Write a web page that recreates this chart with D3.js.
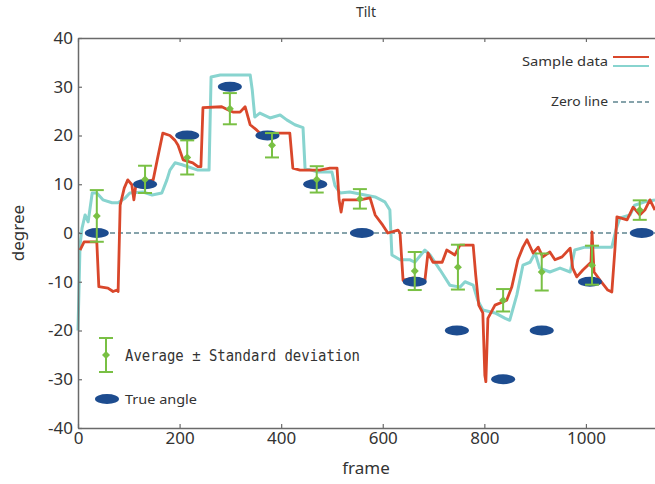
<!DOCTYPE html>
<html>
<head>
<meta charset="utf-8">
<script src="https://cdn.jsdelivr.net/npm/d3@7"></script>
<style>
  html, body { margin: 0; padding: 0; background: #fff; }
  svg { display: block; }
  text { font-family: "Noto Sans", "Open Sans", sans-serif; fill: #333; }
</style>
</head>
<body>
<svg id="chart" width="655" height="484"></svg>
<script>
// ---------- data ----------
const xTicks = [0, 200, 400, 600, 800, 1000];
const yTicks = [-40, -30, -20, -10, 0, 10, 20, 30, 40];

// red "Sample data" series
const redFrames = [4, 12, 37, 41, 59, 69, 77, 79, 83, 91, 98, 106, 110, 114, 126, 148, 156, 167, 181, 191, 197, 207, 226, 236, 242, 246, 283, 295, 305, 319, 329, 339, 352, 362, 388, 417, 423, 437, 476, 496, 510, 514, 518, 522, 555, 575, 585, 600, 610, 630, 634, 640, 660, 683, 689, 699, 717, 726, 742, 752, 778, 783, 789, 797, 801, 803, 807, 821, 844, 854, 866, 876, 884, 896, 906, 915, 929, 939, 953, 969, 974, 982, 994, 1010, 1012, 1016, 1028, 1043, 1051, 1057, 1061, 1081, 1093, 1106, 1116, 1126, 1136];
const redValues = [-3.5, -1.8, -1.8, -11, -11.3, -12, -11.7, -12, 5.7, 9.2, 10.9, 9.9, 6.8, 9.9, 10.3, 10.9, 15, 20.5, 20, 19, 18, 15, 14.4, 13.6, 13.6, 25.7, 25.9, 25.3, 24.8, 24.8, 25.9, 22.2, 21.1, 20.1, 20.5, 20.5, 13.3, 12.9, 12.9, 13.3, 13.3, 6.8, 4.3, 6.8, 6.8, 7.2, 3.7, 1.6, 0, 0.6, 0, -9.7, -9.2, -9.7, -4.1, -6, -6, -3.5, -4.5, -2.5, -2.5, -8.6, -14.8, -16.4, -29.2, -30.5, -17.5, -14.8, -13.8, -11.1, -5.5, -2.9, -1.4, -4.1, -2.9, -4.9, -3.9, -5.5, -4.9, -3.1, -7.2, -9, -7.6, -6, 0.2, -8, -9.7, -11.7, -12.1, -3.5, 3.3, 2.7, 5.3, 3.7, 4.7, 6.8, 4.7];

// cyan "Sample data" series
const cyanFrames = [0, 4, 8, 14, 20, 28, 37, 49, 67, 79, 93, 102, 128, 146, 165, 175, 181, 191, 205, 236, 258, 262, 280, 339, 343, 348, 358, 378, 398, 411, 427, 443, 447, 472, 500, 506, 516, 535, 565, 585, 604, 614, 618, 634, 654, 663, 683, 693, 713, 732, 752, 762, 778, 787, 797, 821, 841, 850, 864, 876, 890, 900, 909, 929, 949, 969, 978, 998, 1028, 1051, 1059, 1067, 1087, 1096, 1116, 1136];
const cyanValues = [-20, -2.5, 1, 3.7, 2.3, 8.2, 8.2, 6.8, 6.2, 6.2, 7.2, 8.2, 8.4, 7.8, 8.2, 10.9, 12.9, 14.4, 14, 12.9, 12.9, 32, 32.4, 32.4, 29.4, 23.8, 24.6, 23.6, 24.2, 23.2, 22.2, 21.6, 13.3, 12.5, 12.5, 9.7, 8.2, 8.4, 7.8, 7.4, 6.4, 4.7, -4.5, -5.5, -5.5, -6, -3.5, -4.5, -7.6, -10.7, -11.1, -10, -10.7, -13.8, -15.8, -16.4, -17.5, -17.9, -12.7, -6.6, -6, -4.1, -7.2, -8, -7.2, -8, -3.5, -2.9, -2.9, -2.9, 0.6, 3.1, 3.7, 5.7, 6.4, 6.8];

// average ± standard deviation
const barFrames = [37, 132, 215, 299, 382, 470, 555, 663, 748, 837, 913, 1012, 1106];
const barMeans  = [3.5, 11, 15.5, 25.5, 18, 11, 7, -7.8, -7, -13.8, -8, -6.6, 4.7];
const barSDs    = [5.3, 2.8, 3.5, 3.2, 2.5, 2.7, 2, 3.9, 4.6, 2.3, 3.8, 4, 2];

// true angle
const trueFrames = [37, 132, 215, 299, 373, 467, 559, 663, 746, 837, 913, 1008, 1110];
const trueAngles = [0, 10, 20, 30, 20, 10, 0, -10, -20, -30, -20, -10, 0];

// ---------- chart ----------
const svg = d3.select("#chart");
const x = d3.scaleLinear().domain([0, 1136]).range([78, 655]);
const y = d3.scaleLinear().domain([-40, 40]).range([428, 38]);

const C = {
  red: "#d9472b", cyan: "#88d4cf", green: "#79c044",
  blue: "#1d4c8f", zero: "#5f8590", axis: "#6a6a6a"
};

// zero line
svg.append("line")
  .attr("x1", x(0)).attr("x2", 655)
  .attr("y1", y(0)).attr("y2", y(0))
  .attr("stroke", C.zero).attr("stroke-width", 1.6)
  .attr("stroke-dasharray", "5,3");

const line = d3.line().x(d => x(d[0])).y(d => y(d[1]));
const cyanData = cyanFrames.map((f, i) => [f, cyanValues[i]]);
const redData = redFrames.map((f, i) => [f, redValues[i]]);

svg.append("path").datum(cyanData).attr("d", line)
  .attr("fill", "none").attr("stroke", C.cyan).attr("stroke-width", 3)
  .attr("stroke-linejoin", "round");
svg.append("path").datum(redData).attr("d", line)
  .attr("fill", "none").attr("stroke", C.red).attr("stroke-width", 2.8)
  .attr("stroke-linejoin", "round");

// true angle ellipses
svg.append("g").selectAll("ellipse")
  .data(trueFrames.map((f, i) => [f, trueAngles[i]]))
  .join("ellipse")
  .attr("cx", d => x(d[0])).attr("cy", d => y(d[1]))
  .attr("rx", 12).attr("ry", 5)
  .attr("fill", C.blue);

// error bars
const bars = svg.append("g").selectAll("g")
  .data(barFrames.map((f, i) => ({ f, m: barMeans[i], s: barSDs[i] })))
  .join("g")
  .attr("stroke", C.green).attr("stroke-width", 2);
bars.append("line")
  .attr("x1", d => x(d.f)).attr("x2", d => x(d.f))
  .attr("y1", d => y(d.m + d.s)).attr("y2", d => y(d.m - d.s));
bars.append("line")
  .attr("x1", d => x(d.f) - 7).attr("x2", d => x(d.f) + 7)
  .attr("y1", d => y(d.m + d.s)).attr("y2", d => y(d.m + d.s));
bars.append("line")
  .attr("x1", d => x(d.f) - 7).attr("x2", d => x(d.f) + 7)
  .attr("y1", d => y(d.m - d.s)).attr("y2", d => y(d.m - d.s));
bars.append("path")
  .attr("d", d3.symbol(d3.symbolDiamond, 28))
  .attr("transform", d => `translate(${x(d.f)},${y(d.m)}) scale(1.4,0.8)`)
  .attr("fill", C.green).attr("stroke", "none");

// axes
const axisStyle = g => {
  g.selectAll("path.domain").attr("stroke", C.axis).attr("stroke-width", 1.5);
  g.selectAll(".tick line").attr("stroke", C.axis).attr("stroke-width", 1.2);
  g.selectAll(".tick text").attr("fill", "#333")
    .style("font-family", '"Noto Sans", sans-serif').style("font-size", "17px");
};
const plainFmt = d => String(d);

svg.append("g").attr("transform", `translate(0,${y(-40)})`)
  .call(d3.axisBottom(x).tickValues(xTicks).tickFormat(plainFmt)
    .tickSizeInner(-4).tickSizeOuter(0).tickPadding(4))
  .call(axisStyle);
svg.append("g").attr("transform", `translate(0,${y(40)})`)
  .call(d3.axisTop(x).tickValues(xTicks).tickSizeInner(-4).tickSizeOuter(0).tickFormat(""))
  .call(axisStyle);
svg.append("g").attr("transform", `translate(${x(0)},0)`)
  .call(d3.axisLeft(y).tickValues(yTicks).tickFormat(plainFmt)
    .tickSizeInner(-4).tickSizeOuter(0).tickPadding(5))
  .call(axisStyle);

// titles
svg.append("text").attr("x", 366).attr("y", 17).attr("text-anchor", "middle")
  .style("font-size", "14px").text("Tilt");
svg.append("text").attr("x", 366).attr("y", 474).attr("text-anchor", "middle")
  .style("font-size", "17px").text("frame");
svg.append("text").attr("transform", `translate(24,${y(0)}) rotate(-90)`)
  .attr("text-anchor", "middle").style("font-size", "17px").text("degree");

// top-right legend
svg.append("text").attr("x", 608).attr("y", 66).attr("text-anchor", "end")
  .style("font-size", "13px").attr("textLength", 86).attr("lengthAdjust", "spacingAndGlyphs")
  .text("Sample data");
svg.append("line").attr("x1", 613).attr("x2", 649).attr("y1", 57).attr("y2", 57)
  .attr("stroke", C.red).attr("stroke-width", 2.2);
svg.append("line").attr("x1", 613).attr("x2", 649).attr("y1", 66).attr("y2", 66)
  .attr("stroke", C.cyan).attr("stroke-width", 2.2);
svg.append("text").attr("x", 608).attr("y", 106).attr("text-anchor", "end")
  .style("font-size", "13px").attr("textLength", 57).attr("lengthAdjust", "spacingAndGlyphs")
  .text("Zero line");
svg.append("line").attr("x1", 613).attr("x2", 649).attr("y1", 102).attr("y2", 102)
  .attr("stroke", C.zero).attr("stroke-width", 1.6).attr("stroke-dasharray", "5,3");

// bottom-left legend
const lg = svg.append("g").attr("stroke", C.green).attr("stroke-width", 2);
lg.append("line").attr("x1", 106).attr("x2", 106).attr("y1", 338).attr("y2", 372);
lg.append("line").attr("x1", 99).attr("x2", 113).attr("y1", 338).attr("y2", 338);
lg.append("line").attr("x1", 99).attr("x2", 113).attr("y1", 372).attr("y2", 372);
lg.append("path").attr("d", d3.symbol(d3.symbolDiamond, 28))
  .attr("transform", "translate(106,355) scale(1.4,0.8)")
  .attr("fill", C.green).attr("stroke", "none");
svg.append("text").attr("x", 125).attr("y", 361)
  .style("font-family", '"DejaVu Sans Mono", monospace').style("font-size", "15px")
  .attr("textLength", 235).attr("lengthAdjust", "spacingAndGlyphs")
  .text("Average \u00B1 Standard deviation");
svg.append("ellipse").attr("cx", 107).attr("cy", 399).attr("rx", 12).attr("ry", 5)
  .attr("fill", C.blue);
svg.append("text").attr("x", 125).attr("y", 404)
  .style("font-size", "13px").attr("textLength", 72).attr("lengthAdjust", "spacingAndGlyphs")
  .text("True angle");
</script>
</body>
</html>
